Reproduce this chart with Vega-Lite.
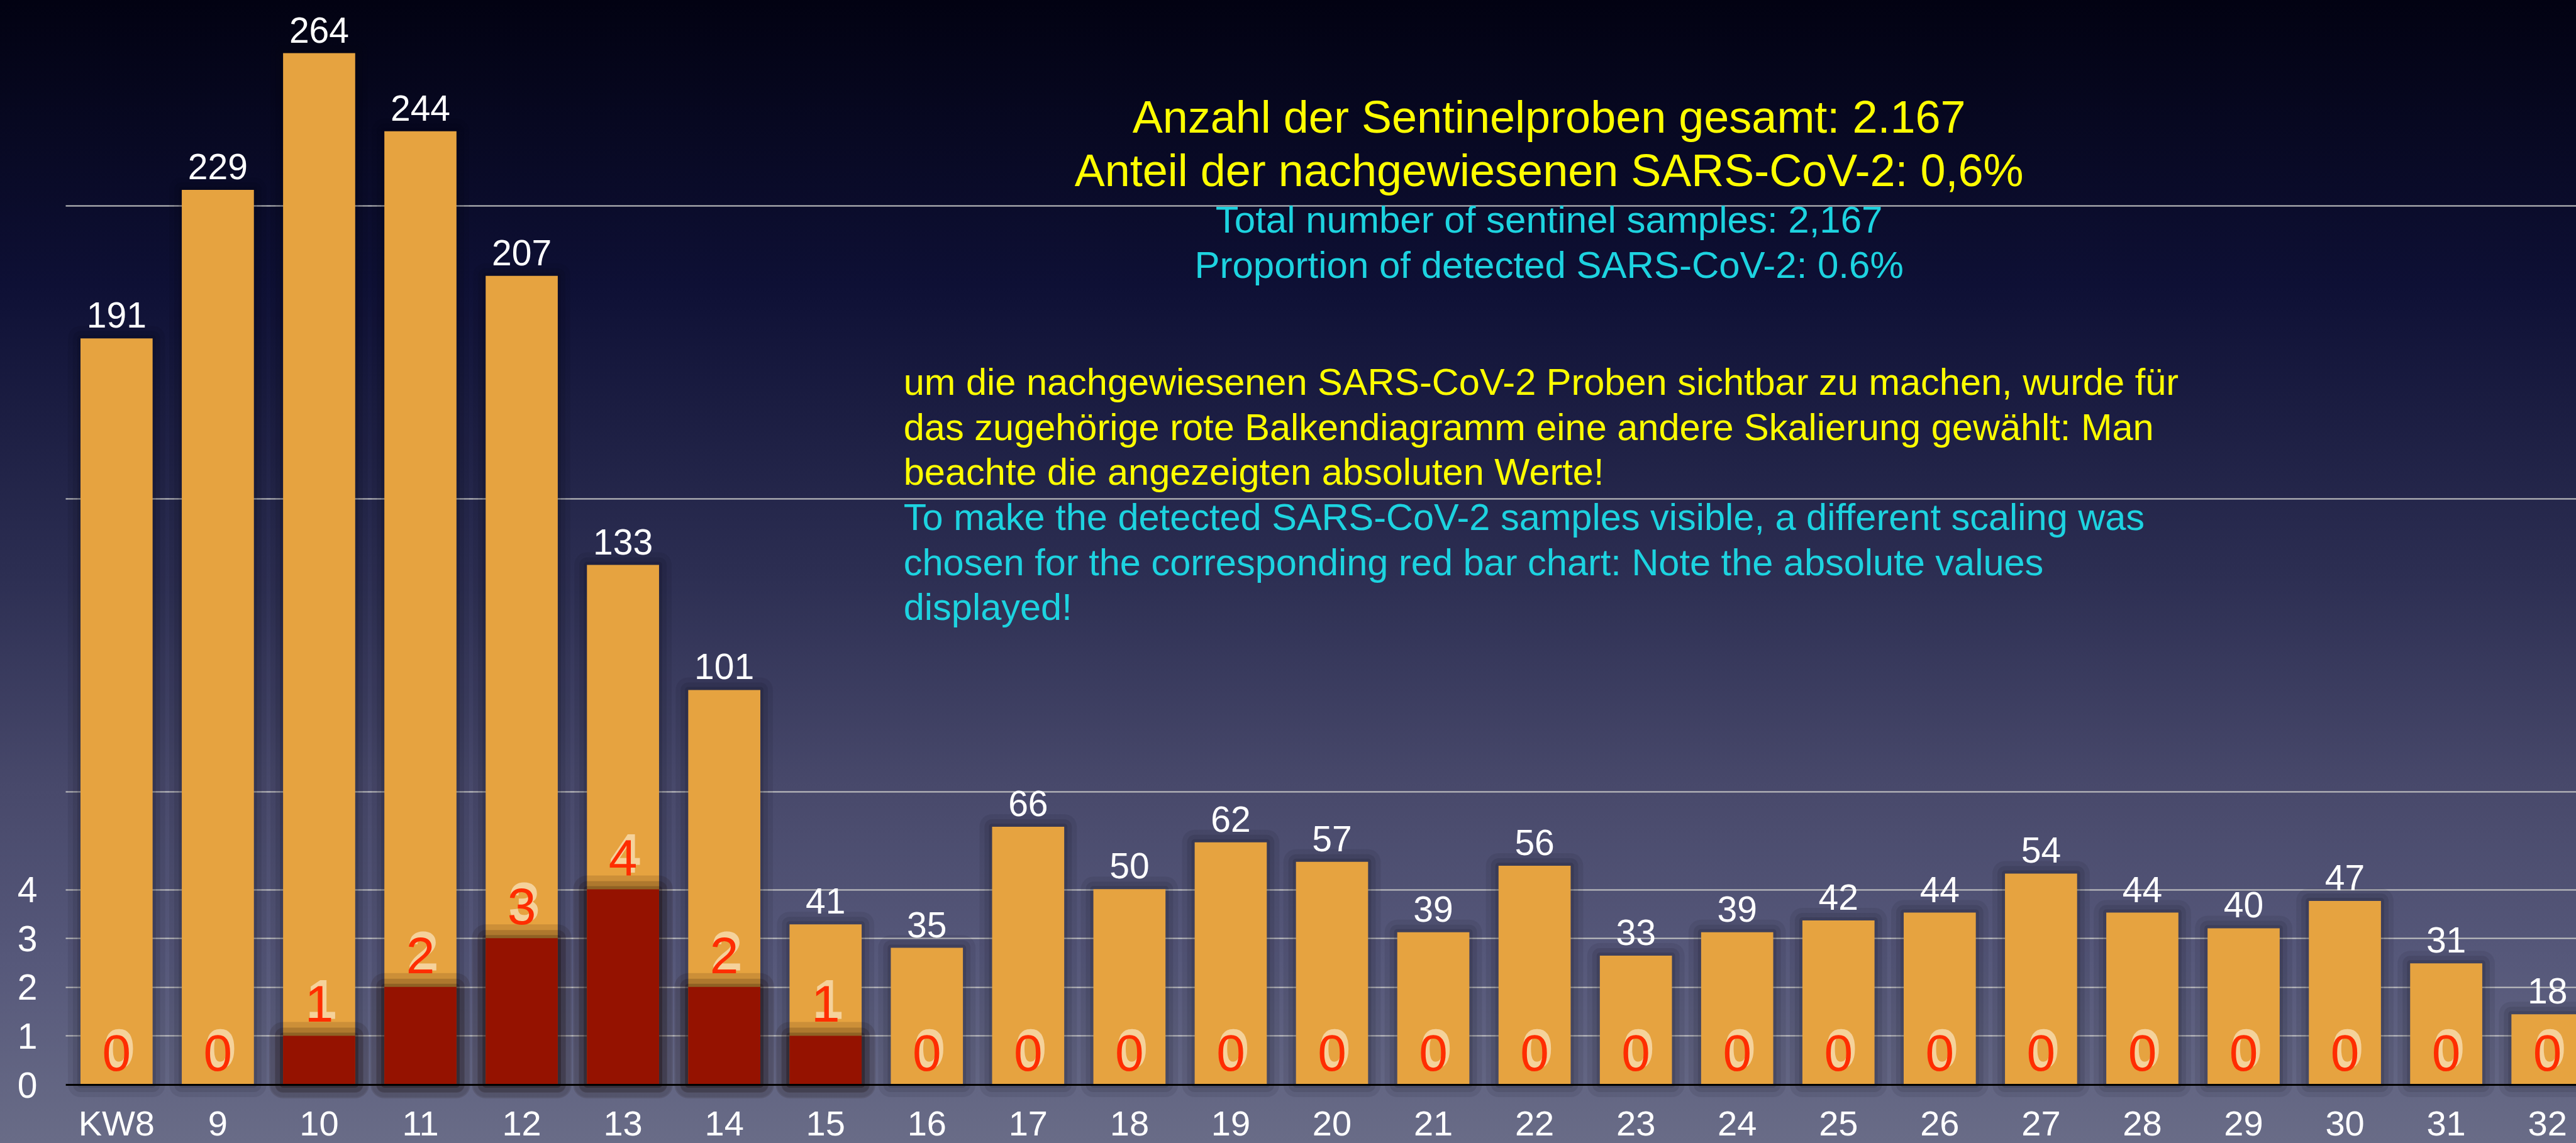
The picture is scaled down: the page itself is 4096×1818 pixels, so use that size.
{
  "$schema": "https://vega.github.io/schema/vega-lite/v6.json",
  "width": 4096,
  "height": 1818,
  "autosize": {"type": "none"},
  "padding": 0,
  "background": "#2c2e52",
  "view": {
    "stroke": null,
    "fill": {
      "gradient": "linear", "x1": 0, "y1": 0, "x2": 0, "y2": 1,
      "stops": [
        {"offset": 0, "color": "#020212"},
        {"offset": 0.25, "color": "#0e1035"},
        {"offset": 0.5, "color": "#2c2e52"},
        {"offset": 0.69, "color": "#48496b"},
        {"offset": 0.84, "color": "#56587a"},
        {"offset": 1, "color": "#696c87"}
      ]
    }
  },
  "config": {"font": "Liberation Sans", "view": {"stroke": null}},
  "datasets": {
    "weeks": [
      {"week": "KW8", "samples": 191, "positives": 0},
      {"week": "9", "samples": 229, "positives": 0},
      {"week": "10", "samples": 264, "positives": 1},
      {"week": "11", "samples": 244, "positives": 2},
      {"week": "12", "samples": 207, "positives": 3},
      {"week": "13", "samples": 133, "positives": 4},
      {"week": "14", "samples": 101, "positives": 2},
      {"week": "15", "samples": 41, "positives": 1},
      {"week": "16", "samples": 35, "positives": 0},
      {"week": "17", "samples": 66, "positives": 0},
      {"week": "18", "samples": 50, "positives": 0},
      {"week": "19", "samples": 62, "positives": 0},
      {"week": "20", "samples": 57, "positives": 0},
      {"week": "21", "samples": 39, "positives": 0},
      {"week": "22", "samples": 56, "positives": 0},
      {"week": "23", "samples": 33, "positives": 0},
      {"week": "24", "samples": 39, "positives": 0},
      {"week": "25", "samples": 42, "positives": 0},
      {"week": "26", "samples": 44, "positives": 0},
      {"week": "27", "samples": 54, "positives": 0},
      {"week": "28", "samples": 44, "positives": 0},
      {"week": "29", "samples": 40, "positives": 0},
      {"week": "30", "samples": 47, "positives": 0},
      {"week": "31", "samples": 31, "positives": 0},
      {"week": "32", "samples": 18, "positives": 0}
    ]
  },
  "data": {"name": "weeks"},
  "encoding": {
    "x": {
      "field": "week",
      "type": "ordinal",
      "scale": {
        "domain": ["KW8","9","10","11","12","13","14","15","16","17","18","19","20","21","22","23","24","25","26","27","28","29","30","31","32"],
        "range": [104, 4132],
        "paddingInner": 0.288,
        "paddingOuter": 0.149
      },
      "axis": {
        "title": null,
        "offset": -93,
        "domain": true,
        "domainColor": "#000000",
        "domainWidth": 3,
        "ticks": false,
        "grid": false,
        "labelColor": "#ffffff",
        "labelFont": "Liberation Sans",
        "labelFontSize": 56,
        "labelPadding": 36,
        "labelAngle": 0,
        "labelOverlap": false,
        "zindex": 1
      }
    }
  },
  "layer": [
    {
      "layer": [
        {
          "mark": {"type": "bar", "color": "#05050f", "opacity": 0.07, "stroke": "#05050f", "strokeWidth": 40, "strokeJoin": "round"},
          "encoding": {
            "y": {
              "field": "samples",
              "type": "quantitative",
              "scale": {"domain": [0, 277.6], "range": [1725, 0], "nice": false},
              "axis": {
                "orient": "left",
                "offset": -104,
                "title": null,
                "values": [75, 150, 225],
                "grid": true,
                "gridColor": "#c4c4c4",
                "gridWidth": 2,
                "labels": false,
                "ticks": false,
                "domain": false
              }
            }
          }
        },
        {
          "mark": {"type": "bar", "color": "#05050f", "opacity": 0.09, "stroke": "#05050f", "strokeWidth": 24, "strokeJoin": "round"},
          "encoding": {
            "y": {"field": "samples", "type": "quantitative"}
          }
        },
        {
          "mark": {"type": "bar", "color": "#05050f", "opacity": 0.12, "stroke": "#05050f", "strokeWidth": 10, "strokeJoin": "round"},
          "encoding": {
            "y": {"field": "samples", "type": "quantitative"}
          }
        },
        {
          "mark": {"type": "bar", "color": "#E6A340"},
          "encoding": {
            "y": {"field": "samples", "type": "quantitative"}
          }
        },
        {
          "mark": {"type": "text", "color": "#ffffff", "fontSize": 57, "baseline": "alphabetic", "dy": -17, "font": "Liberation Sans"},
          "encoding": {
            "y": {"field": "samples", "type": "quantitative"},
            "text": {"field": "samples", "type": "quantitative"}
          }
        },
        {
          "data": {"values": [{"t": "Anzahl der Sentinelproben gesamt: 2.167\nAnteil der nachgewiesenen SARS-CoV-2: 0,6%"}]},
          "mark": {"type": "text", "color": "#FFFF00", "fontSize": 72, "lineHeight": 85, "lineBreak": "\n", "align": "center", "baseline": "alphabetic", "dx": 23, "font": "Liberation Sans"},
          "encoding": {
            "x": {"datum": "22", "type": "ordinal"},
            "y": {"datum": 243.7, "type": "quantitative"},
            "text": {"field": "t", "type": "nominal"}
          }
        },
        {
          "data": {"values": [{"t": "Total number of sentinel samples: 2,167\nProportion of detected SARS-CoV-2: 0.6%"}]},
          "mark": {"type": "text", "color": "#1DD3E0", "fontSize": 60, "lineHeight": 72, "lineBreak": "\n", "align": "center", "baseline": "alphabetic", "dx": 23, "font": "Liberation Sans"},
          "encoding": {
            "x": {"datum": "22", "type": "ordinal"},
            "y": {"datum": 218.06, "type": "quantitative"},
            "text": {"field": "t", "type": "nominal"}
          }
        },
        {
          "data": {"values": [{"t": "um die nachgewiesenen SARS-CoV-2 Proben sichtbar zu machen, wurde für\ndas zugehörige rote Balkendiagramm eine andere Skalierung gewählt: Man\nbeachte die angezeigten absoluten Werte!"}]},
          "mark": {"type": "text", "color": "#FFFF00", "fontSize": 59.5, "lineHeight": 71.7, "lineBreak": "\n", "align": "left", "baseline": "alphabetic", "dx": -37, "font": "Liberation Sans"},
          "encoding": {
            "x": {"datum": "16", "type": "ordinal"},
            "y": {"datum": 176.54, "type": "quantitative"},
            "text": {"field": "t", "type": "nominal"}
          }
        },
        {
          "data": {"values": [{"t": "To make the detected SARS-CoV-2 samples visible, a different scaling was\nchosen for the corresponding red bar chart: Note the absolute values\ndisplayed!"}]},
          "mark": {"type": "text", "color": "#1DD3E0", "fontSize": 59.5, "lineHeight": 71.7, "lineBreak": "\n", "align": "left", "baseline": "alphabetic", "dx": -37, "font": "Liberation Sans"},
          "encoding": {
            "x": {"datum": "16", "type": "ordinal"},
            "y": {"datum": 141.94, "type": "quantitative"},
            "text": {"field": "t", "type": "nominal"}
          }
        }
      ]
    },
    {
      "layer": [
        {
          "transform": [{"filter": "datum.positives > 0"}],
          "mark": {"type": "bar", "color": "#1a0800", "opacity": 0.12, "stroke": "#1a0800", "strokeWidth": 44, "strokeJoin": "round"},
          "encoding": {
            "y": {
              "field": "positives",
              "type": "quantitative",
              "scale": {"domain": [0, 22.23], "range": [1725, 0], "nice": false},
              "axis": {
                "orient": "left",
                "title": null,
                "offset": -104,
                "values": [0, 1, 2, 3, 4],
                "format": "d",
                "grid": true,
                "gridColor": "#c4c4c4",
                "gridWidth": 2,
                "ticks": false,
                "tickSize": 0,
                "domain": false,
                "labelColor": "#ffffff",
                "labelFont": "Liberation Sans",
                "labelFontSize": 57,
                "labelAlign": "center",
                "labelBaseline": "middle",
                "labelPadding": 61,
                "labelOffset": 3
              }
            }
          }
        },
        {
          "transform": [{"filter": "datum.positives > 0"}],
          "mark": {"type": "bar", "color": "#1a0800", "opacity": 0.16, "stroke": "#1a0800", "strokeWidth": 26, "strokeJoin": "round"},
          "encoding": {
            "y": {"field": "positives", "type": "quantitative"}
          }
        },
        {
          "transform": [{"filter": "datum.positives > 0"}],
          "mark": {"type": "bar", "color": "#1a0800", "opacity": 0.2, "stroke": "#1a0800", "strokeWidth": 10, "strokeJoin": "round"},
          "encoding": {
            "y": {"field": "positives", "type": "quantitative"}
          }
        },
        {
          "mark": {"type": "bar", "color": "#951200"},
          "encoding": {
            "y": {"field": "positives", "type": "quantitative"}
          }
        },
        {
          "mark": {"type": "text", "color": "#FFF2D8", "stroke": "#FFF2D8", "strokeWidth": 5, "opacity": 0.6, "fontSize": 82, "baseline": "alphabetic", "dx": 4, "dy": -29, "font": "Liberation Sans"},
          "encoding": {
            "y": {"field": "positives", "type": "quantitative"},
            "text": {"field": "positives", "type": "quantitative"}
          }
        },
        {
          "mark": {"type": "text", "color": "#FF2D00", "fontSize": 82, "baseline": "alphabetic", "dy": -22, "font": "Liberation Sans"},
          "encoding": {
            "y": {"field": "positives", "type": "quantitative"},
            "text": {"field": "positives", "type": "quantitative"}
          }
        }
      ]
    }
  ],
  "resolve": {"scale": {"y": "independent"}, "axis": {"y": "independent"}}
}
